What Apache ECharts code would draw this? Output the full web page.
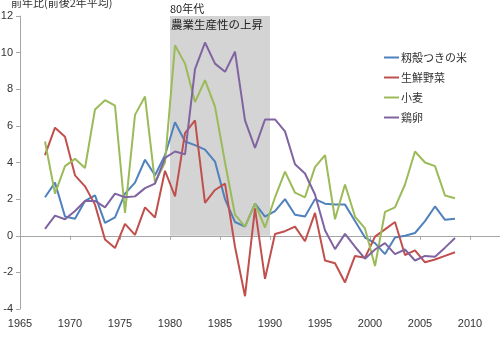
<!DOCTYPE html>
<html>
<head>
<meta charset="utf-8">
<script src="https://cdn.jsdelivr.net/npm/echarts@6/dist/echarts.min.js"></script>
<style>
  html, body { margin: 0; padding: 0; background: #fff; }
  #main { width: 500px; height: 338px; }
</style>
</head>
<body>
<div id="main"></div>
<script>
// 年（前後2年平均、年央にプロット）
var years = [];
for (var y = 1967; y <= 2008; y++) years.push(y);

var seriesNames = ['籾殻つきの米', '生鮮野菜', '小麦', '鶏卵'];
var seriesColors = ['#4F81BD', '#C0504D', '#9BBB59', '#8064A2'];

// 籾殻つきの米
var rice = [2.1, 2.9, 1.05, 0.93, 1.9, 2.2, 0.7, 1.0, 2.3, 2.9,
            4.15, 3.3, 4.4, 6.2, 5.15, 4.95, 4.7, 4.05, 2.0, 0.75,
            0.5, 1.75, 1.05, 1.35, 2.0, 1.15, 1.05, 2.0, 1.75, 1.7,
            1.7, 0.8, -0.1, -0.4, -1.0, -0.1, 0.0, 0.15, 0.8, 1.6,
            0.87, 0.93];
// 生鮮野菜
var veg = [4.4, 5.9, 5.4, 3.3, 2.7, 1.7, -0.2, -0.67, 0.65, 0.05,
           1.55, 1.0, 3.55, 2.15, 5.6, 6.3, 1.8, 2.5, 2.85, -0.6,
           -3.3, 1.5, -2.35, 0.1, 0.25, 0.5, -0.3, 1.25, -1.35, -1.5,
           -2.55, -1.1, -1.2, -0.05, 0.35, 0.75, -1.05, -0.8, -1.45, -1.3,
           -1.1, -0.9];
// 小麦
var wheat = [5.15, 2.3, 3.8, 4.2, 3.7, 6.9, 7.4, 7.1, 1.25, 6.6,
             7.6, 2.9, 4.0, 10.4, 9.4, 7.3, 8.5, 7.05, 4.0, 1.15,
             0.5, 1.75, 0.45, 2.1, 3.5, 2.35, 2.1, 3.75, 4.4, 0.9,
             2.8, 1.05, 0.4, -1.65, 1.3, 1.55, 2.8, 4.6, 4.0, 3.8,
             2.2, 2.05];
// 鶏卵
var egg = [0.38, 1.1, 0.9, 1.35, 1.9, 1.9, 1.55, 2.3, 2.1, 2.15,
           2.6, 2.85, 4.25, 4.6, 4.45, 9.1, 10.55, 9.4, 8.95, 10.05,
           6.3, 4.8, 6.35, 6.35, 5.7, 3.9, 3.4, 2.25, 0.3, -0.73,
           0.1, -0.6, -1.25, -0.75, -0.4, -1.0, -0.75, -1.35, -1.1, -1.15,
           -0.65, -0.12];

var allValues = [rice, veg, wheat, egg];

var xTicks = [1965, 2010];   // 横軸の目盛範囲（5年毎）
var yTicks = [-4, 12];       // 縦軸の範囲（目盛は2毎）
var shadeYears = [1980, 1990];
var shadeLabel = ['80年代', '農業生産性の上昇'];

var series = [];
for (var i = 0; i < seriesNames.length; i++) {
    var data = [];
    for (var j = 0; j < years.length; j++) {
        // 前後2年平均 → 年の中央
        data.push([years[j] + 0.5, allValues[i][j]]);
    }
    series.push({
        name: seriesNames[i],
        type: 'line',
        data: data,
        symbol: 'none',
        lineStyle: {width: 2, color: seriesColors[i]},
        itemStyle: {color: seriesColors[i]},
        z: 3
    });
}

// 80年代の網掛け
series[0].markArea = {
    silent: true,
    itemStyle: {color: '#D4D4D4'},
    label: {show: false},
    data: [[{xAxis: shadeYears[0], yAxis: 0}, {xAxis: shadeYears[1], yAxis: yTicks[1]}]]
};

function yearLabel(v) {
    return v <= xTicks[1] ? String(v) : '';
}

var option = {
    animation: false,
    color: seriesColors,
    grid: {left: 20, right: 0, top: 16, bottom: 29, outerBoundsMode: 'none', containLabel: false},
    textStyle: {fontFamily: '"Noto Sans CJK JP", "DejaVu Sans", sans-serif'},
    graphic: [
        {type: 'text', left: 11, top: -3, z: 100,
         style: {text: '前年比(前後2年平均)', fill: '#333', font: '11px "Noto Sans CJK JP"'}},
        {type: 'text', left: 170, top: 3, z: 100,
         style: {text: shadeLabel[0], fill: '#222', font: '11px "Noto Sans CJK JP"'}},
        {type: 'text', left: 171, top: 19, z: 100,
         style: {text: shadeLabel[1], fill: '#222', font: '11.5px "Noto Sans CJK JP"'}}
    ],
    legend: {
        orient: 'vertical',
        left: 379,
        top: 47,
        itemWidth: 15,
        itemHeight: 2,
        itemGap: 9,
        icon: 'rect',
        textStyle: {fontSize: 11, color: '#333', padding: [0, 0, 0, -3]},
        data: seriesNames
    },
    xAxis: [{
        type: 'value',
        min: xTicks[0],
        max: 2013,
        interval: 5,
        position: 'bottom',
        axisLine: {show: false, onZero: false},
        axisTick: {show: false},
        splitLine: {show: false},
        axisLabel: {color: '#333', fontSize: 11, margin: 9, fontFamily: 'Liberation Sans', formatter: yearLabel}
    }, {
        type: 'value',
        min: xTicks[0],
        max: 2013,
        interval: 5,
        position: 'top',
        axisLine: {show: true, onZero: true, lineStyle: {color: '#A6A6A6', width: 1}},
        axisTick: {show: true, inside: true, length: 4, lineStyle: {color: '#A6A6A6'}},
        axisLabel: {show: false},
        splitLine: {show: false}
    }],
    yAxis: {
        type: 'value',
        min: yTicks[0],
        max: yTicks[1],
        interval: 2,
        axisLine: {show: true, lineStyle: {color: '#A6A6A6'}},
        axisTick: {show: true, length: 4, lineStyle: {color: '#A6A6A6'}},
        splitLine: {show: false},
        axisLabel: {color: '#333', fontSize: 11, margin: 7, fontFamily: 'Liberation Sans'}
    },
    series: series
};

var myChart = echarts.init(document.getElementById('main'));
myChart.setOption(option);
</script>
</body>
</html>
